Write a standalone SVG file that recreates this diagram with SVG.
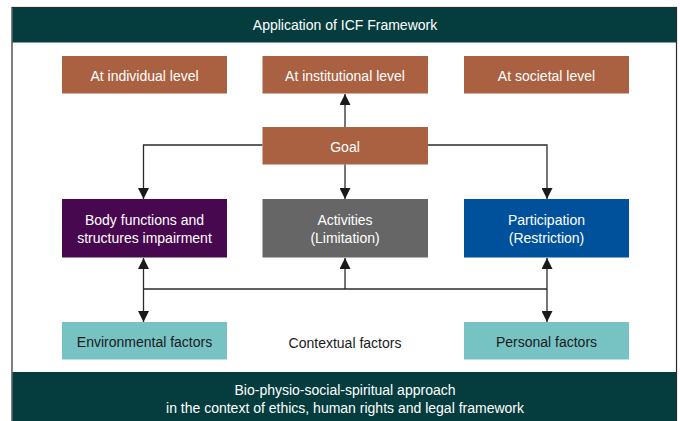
<svg xmlns="http://www.w3.org/2000/svg" width="680" height="421" viewBox="0 0 680 421">
  <style>
    text { font-family: "Liberation Sans", "Noto Sans", Arial, sans-serif; font-size: 14px; text-anchor: middle; dominant-baseline: central; }
    .light { fill: #ffffff; }
    .dark { fill: #1a1a1a; }
    .band { fill: #053d3e; }
    .brown { fill: #aa6141; }
    .link { fill: none; stroke: #2b2b2b; stroke-width: 1.3; }
  </style>
  <defs>
    <marker id="arrow" viewBox="0 0 10 10" refX="10" refY="5" markerWidth="11" markerHeight="11" markerUnits="userSpaceOnUse" orient="auto">
      <path d="M0,0 L10,5 L0,10 Z" fill="#1a1a1a"/>
    </marker>
  </defs>

  <rect width="680" height="421" fill="#ffffff"/>

  <!-- outer frame -->
  <g id="frame">
    <rect x="12" y="7.5" width="664.5" height="420" fill="#ffffff" stroke="#2a2a2a" stroke-width="1.2"/>
  </g>

  <!-- header band -->
  <g id="header">
    <rect class="band" x="12.5" y="8" width="663.5" height="34.5"/>
    <text class="light" x="345" y="25">Application of ICF Framework</text>
  </g>

  <!-- connectors -->
  <g id="connectors">
    <line class="link" x1="345" y1="127" x2="345" y2="94" marker-end="url(#arrow)"/>
    <polyline class="link" points="262.5,145 143.5,145 143.5,199" marker-end="url(#arrow)"/>
    <polyline class="link" points="428,145 547,145 547,199" marker-end="url(#arrow)"/>
    <line class="link" x1="345" y1="164.5" x2="345" y2="199" marker-end="url(#arrow)"/>
    <line class="link" x1="143.5" y1="289" x2="547" y2="289"/>
    <line class="link" x1="143.5" y1="289" x2="143.5" y2="258" marker-end="url(#arrow)"/>
    <line class="link" x1="143.5" y1="289" x2="143.5" y2="322" marker-end="url(#arrow)"/>
    <line class="link" x1="345" y1="289" x2="345" y2="258" marker-end="url(#arrow)"/>
    <line class="link" x1="547" y1="289" x2="547" y2="258" marker-end="url(#arrow)"/>
    <line class="link" x1="547" y1="289" x2="547" y2="322" marker-end="url(#arrow)"/>
  </g>

  <!-- level boxes -->
  <g id="individual">
    <rect class="brown" x="62" y="56" width="165" height="37.5"/>
    <text class="light" x="144.5" y="75.5">At individual level</text>
  </g>
  <g id="institutional">
    <rect class="brown" x="262.5" y="56" width="165.5" height="37.5"/>
    <text class="light" x="345" y="75.5">At institutional level</text>
  </g>
  <g id="societal">
    <rect class="brown" x="464" y="56" width="165" height="37.5"/>
    <text class="light" x="546.5" y="75.5">At societal level</text>
  </g>

  <!-- goal -->
  <g id="goal">
    <rect class="brown" x="262.5" y="127" width="165.5" height="37.5"/>
    <text class="light" x="345" y="146.5">Goal</text>
  </g>

  <!-- ICF components -->
  <g id="body">
    <rect x="62" y="199" width="165" height="58.5" fill="#48084f"/>
    <text class="light" x="144.5" y="219.5">Body functions and</text>
    <text class="light" x="144.5" y="237.5">structures impairment</text>
  </g>
  <g id="activities">
    <rect x="262.5" y="199" width="165.5" height="58.5" fill="#666666"/>
    <text class="light" x="345" y="219.5">Activities</text>
    <text class="light" x="345" y="237.5">(Limitation)</text>
  </g>
  <g id="participation">
    <rect x="464" y="199" width="165" height="58.5" fill="#00519b"/>
    <text class="light" x="546.5" y="219.5">Participation</text>
    <text class="light" x="546.5" y="237.5">(Restriction)</text>
  </g>

  <!-- contextual factors -->
  <g id="environmental">
    <rect x="62" y="322" width="165" height="37.5" fill="#77c3c4"/>
    <text class="dark" x="144.5" y="341.5">Environmental factors</text>
  </g>
  <g id="contextual">
    <text class="dark" x="345" y="342.5">Contextual factors</text>
  </g>
  <g id="personal">
    <rect x="464" y="322" width="165" height="37.5" fill="#77c3c4"/>
    <text class="dark" x="546.5" y="341.5">Personal factors</text>
  </g>

  <!-- footer band -->
  <g id="footer">
    <rect class="band" x="12.5" y="372" width="663.5" height="49"/>
    <text class="light" x="345" y="389.5">Bio-physio-social-spiritual approach</text>
    <text class="light" x="345" y="407.5">in the context of ethics, human rights and legal framework</text>
  </g>
</svg>
